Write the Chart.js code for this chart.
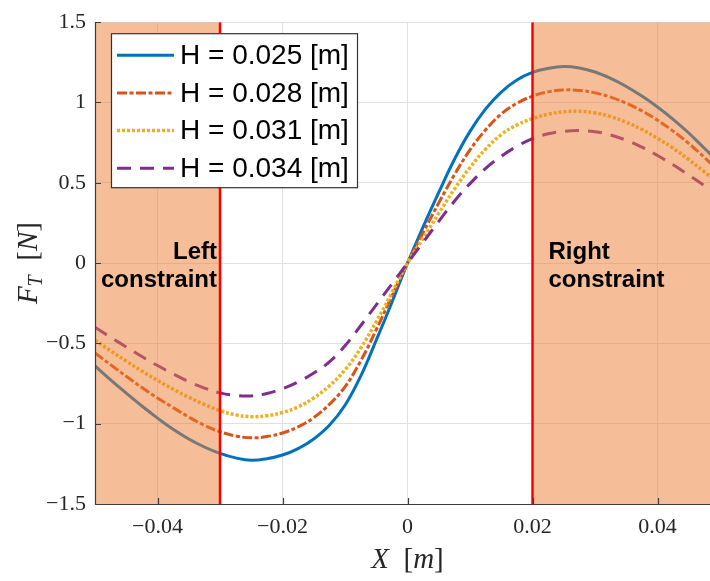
<!DOCTYPE html>
<html>
<head>
<meta charset="utf-8">
<script src="https://cdn.jsdelivr.net/npm/chart.js@4.4.1/dist/chart.umd.min.js"></script>
<style>
  html, body { margin: 0; padding: 0; overflow: hidden; background: #fff; }
  #wrap { position: absolute; left: 0; top: 0; width: 726px; height: 581px; }
</style>
</head>
<body>
<div id="wrap"><canvas id="c" width="726" height="581"></canvas></div>
<script>
// Horizontal position of the moving part [m]
const xValues = [
  -0.05, -0.0475, -0.045, -0.0425, -0.04, -0.0375, -0.035, -0.0325, -0.03, -0.0275,
  -0.025, -0.0225, -0.02, -0.0175, -0.015, -0.0125, -0.01, -0.0075, -0.005, -0.0025,
  0,
  0.0025, 0.005, 0.0075, 0.01, 0.0125, 0.015, 0.0175, 0.02, 0.0225, 0.025,
  0.0275, 0.03, 0.0325, 0.035, 0.0375, 0.04, 0.0425, 0.045, 0.0475, 0.05
];

// Tangential force F_T [N] for each gap H
const forceH025 = [
  -0.64, -0.727, -0.81, -0.89, -0.965, -1.035, -1.095, -1.145, -1.185, -1.213,
  -1.228, -1.218, -1.195, -1.155, -1.095, -1.01, -0.885, -0.705, -0.48, -0.245,
  0.0,
  0.225, 0.44, 0.645, 0.82, 0.96, 1.065, 1.14, 1.187, 1.212, 1.224,
  1.215, 1.19, 1.15, 1.10, 1.04, 0.972, 0.895, 0.81, 0.715, 0.62
];
const forceH028 = [
  -0.56, -0.633, -0.705, -0.775, -0.84, -0.90, -0.958, -1.01, -1.05, -1.076,
  -1.088, -1.08, -1.058, -1.02, -0.962, -0.88, -0.77, -0.61, -0.415, -0.205,
  0.0,
  0.19, 0.375, 0.55, 0.705, 0.83, 0.928, 0.995, 1.04, 1.066, 1.078,
  1.075, 1.06, 1.033, 0.995, 0.948, 0.89, 0.822, 0.745, 0.658, 0.565
];
const forceH031 = [
  -0.48, -0.546, -0.61, -0.672, -0.73, -0.785, -0.835, -0.88, -0.918, -0.945,
  -0.956, -0.95, -0.93, -0.895, -0.84, -0.765, -0.665, -0.53, -0.365, -0.185,
  0.0,
  0.155, 0.31, 0.46, 0.595, 0.71, 0.80, 0.86, 0.90, 0.927, 0.942,
  0.945, 0.935, 0.912, 0.877, 0.832, 0.777, 0.715, 0.645, 0.568, 0.49
];
const forceH034 = [
  -0.40, -0.462, -0.522, -0.582, -0.638, -0.69, -0.738, -0.778, -0.808, -0.824,
  -0.827, -0.812, -0.782, -0.74, -0.685, -0.615, -0.515, -0.39, -0.26, -0.13,
  0.0,
  0.13, 0.26, 0.385, 0.495, 0.59, 0.665, 0.727, 0.775, 0.805, 0.82,
  0.825, 0.818, 0.798, 0.765, 0.722, 0.67, 0.612, 0.548, 0.482, 0.415
];

const seriesLabels = ['H = 0.025 [m]', 'H = 0.028 [m]', 'H = 0.031 [m]', 'H = 0.034 [m]'];

// Axis ticks
const xTickValues = [-0.04, -0.02, 0, 0.02, 0.04];
const xTickLabels = ['\u22120.04', '\u22120.02', '0', '0.02', '0.04'];
const yTickValues = [-1.5, -1, -0.5, 0, 0.5, 1, 1.5];
const yTickLabels = ['\u22121.5', '\u22121', '\u22120.5', '0', '0.5', '1', '1.5'];

// Travel limits and the forbidden zones beyond them
const constraintX = [-0.03, 0.02];
const forbiddenZones = [[-0.05, -0.03], [0.02, 0.05]];
const constraintText = [['Left', 'constraint'], ['Right', 'constraint']];

const toPoints = ys => xValues.map((x, i) => ({ x, y: ys[i] }));

const lineStyles = [
  { color: '#0072BD', dash: [], width: 3 },
  { color: '#D95319', dash: [10, 2.5, 4, 2.5], width: 3 },
  { color: '#EDB120', dash: [3, 2], width: 3.5 },
  { color: '#7E2F8E', dash: [14, 9], width: 3 }
];
const allSeries = [forceH025, forceH028, forceH031, forceH034];

const datasets = allSeries.map((ys, i) => ({
  label: seriesLabels[i],
  data: toPoints(ys),
  borderColor: lineStyles[i].color,
  borderWidth: lineStyles[i].width,
  borderDash: lineStyles[i].dash,
  borderCapStyle: 'butt',
  pointRadius: 0,
  tension: 0.4,
  fill: false,
  order: 4 - i
}));

const TICK_FONT = '"Liberation Serif", "Times New Roman", serif';
const SANS = '"Liberation Sans", Arial, sans-serif';

// Draws a row of text runs (mixed italic / upright / subscript) starting at x, baseline y
function drawRuns(ctx, runs, x, y) {
  let cx = x;
  runs.forEach(r => {
    ctx.font = r.font;
    ctx.fillText(r.text, cx, y + (r.dy || 0));
    cx += ctx.measureText(r.text).width;
  });
}
function runsWidth(ctx, runs) {
  let w = 0;
  runs.forEach(r => { ctx.font = r.font; w += ctx.measureText(r.text).width; });
  return w;
}

const overlay = {
  id: 'overlay',
  afterDatasetsDraw(chart) {
    const { ctx, chartArea: a, scales: { x, y } } = chart;
    ctx.save();
    ctx.beginPath();
    ctx.rect(a.left, a.top, a.right - a.left, a.bottom - a.top);
    ctx.clip();

    // translucent forbidden zones
    ctx.fillStyle = 'rgba(237,125,49,0.5)';
    forbiddenZones.forEach(([x0, x1]) => {
      const p0 = x.getPixelForValue(x0), p1 = x.getPixelForValue(x1);
      ctx.fillRect(p0, a.top, p1 - p0, a.bottom - a.top);
    });

    // constraint lines
    ctx.strokeStyle = '#ff0000';
    ctx.lineWidth = 2.5;
    constraintX.forEach(v => {
      const p = x.getPixelForValue(v);
      ctx.beginPath();
      ctx.moveTo(p, a.top);
      ctx.lineTo(p, a.bottom);
      ctx.stroke();
    });
    ctx.restore();

    // axis lines with inward ticks
    ctx.save();
    ctx.strokeStyle = '#3c3c3c';
    ctx.lineWidth = 1.2;
    ctx.beginPath();
    ctx.moveTo(a.left + 0.5, a.top);
    ctx.lineTo(a.left + 0.5, a.bottom + 0.5);
    ctx.lineTo(a.right, a.bottom + 0.5);
    ctx.stroke();
    ctx.beginPath();
    xTickValues.forEach(v => {
      const p = Math.round(x.getPixelForValue(v)) + 0.5;
      ctx.moveTo(p, a.bottom);
      ctx.lineTo(p, a.bottom - 6);
    });
    yTickValues.forEach(v => {
      const p = Math.round(y.getPixelForValue(v)) + 0.5;
      ctx.moveTo(a.left, p);
      ctx.lineTo(a.left + 6, p);
    });
    ctx.stroke();
    ctx.restore();
  },
  afterDraw(chart) {
    const { ctx, chartArea: a, scales: { x, y } } = chart;
    ctx.save();

    // constraint labels
    ctx.fillStyle = '#000';
    ctx.font = 'bold 24px ' + SANS;
    ctx.textBaseline = 'middle';
    const y0 = y.getPixelForValue(0);
    const pL = x.getPixelForValue(constraintX[0]);
    const pR = x.getPixelForValue(constraintX[1]);
    ctx.textAlign = 'right';
    ctx.fillText(constraintText[0][0], pL - 3, y0 - 11);
    ctx.fillText(constraintText[0][1], pL - 3, y0 + 17);
    ctx.textAlign = 'left';
    ctx.fillText(constraintText[1][0], pR + 16, y0 - 11);
    ctx.fillText(constraintText[1][1], pR + 16, y0 + 17);

    // legend box
    const lx = a.left + 16, ly = a.top + 11, lw = 246, lh = 154;
    ctx.fillStyle = '#fff';
    ctx.fillRect(lx, ly, lw, lh);
    ctx.strokeStyle = '#333';
    ctx.lineWidth = 1.2;
    ctx.strokeRect(lx + 0.5, ly + 0.5, lw, lh);
    chart.data.datasets.forEach((ds, i) => {
      const cy = ly + 22 + i * 37.7;
      ctx.save();
      ctx.strokeStyle = ds.borderColor;
      ctx.lineWidth = ds.borderWidth;
      ctx.setLineDash(ds.borderDash);
      ctx.lineCap = 'butt';
      ctx.beginPath();
      ctx.moveTo(lx + 6, cy);
      ctx.lineTo(lx + 63, cy);
      ctx.stroke();
      ctx.restore();
      ctx.fillStyle = '#000';
      ctx.font = '28px ' + SANS;
      ctx.textAlign = 'left';
      ctx.textBaseline = 'middle';
      ctx.fillText(ds.label, lx + 69, cy + 1);
    });

    // axis titles
    ctx.fillStyle = '#262626';
    ctx.textAlign = 'left';
    ctx.textBaseline = 'alphabetic';
    const it = 'italic 29px ' + TICK_FONT;
    const up = '29px ' + TICK_FONT;
    const xRuns = [
      { text: 'X', font: it },
      { text: '  [', font: up },
      { text: 'm', font: it },
      { text: ']', font: up }
    ];
    const cxTitle = x.getPixelForValue(0);
    drawRuns(ctx, xRuns, cxTitle - runsWidth(ctx, xRuns) / 2, 568);

    const yRuns = [
      { text: 'F', font: it },
      { text: 'T', font: 'italic 20px ' + TICK_FONT, dy: 5 },
      { text: '  [', font: up },
      { text: 'N', font: it },
      { text: ']', font: up }
    ];
    ctx.save();
    ctx.translate(37, y0);
    ctx.rotate(-Math.PI / 2);
    drawRuns(ctx, yRuns, -runsWidth(ctx, yRuns) / 2, 0);
    ctx.restore();

    ctx.restore();
  }
};

new Chart(document.getElementById('c'), {
  type: 'line',
  data: { datasets },
  plugins: [overlay],
  options: {
    responsive: false,
    animation: false,
    devicePixelRatio: 1,
    layout: { padding: { top: 18, left: 0, right: 6, bottom: 0 } },
    plugins: { legend: { display: false }, tooltip: { enabled: false }, title: { display: false } },
    scales: {
      x: {
        type: 'linear',
        min: -0.05,
        max: 0.05,
        afterBuildTicks: s => { s.ticks = xTickValues.map(v => ({ value: v })); },
        afterFit: s => { s.height = 77; },
        ticks: {
          callback: (v, i) => xTickLabels[i],
          font: { family: TICK_FONT, size: 22 },
          color: '#262626',
          padding: 10,
          maxRotation: 0,
          autoSkip: false
        },
        grid: { color: '#e0e0e0', lineWidth: 1, drawTicks: false },
        border: { display: false }
      },
      y: {
        type: 'linear',
        min: -1.5,
        max: 1.5,
        afterBuildTicks: s => { s.ticks = yTickValues.map(v => ({ value: v })); },
        afterFit: s => { s.width = 95; },
        ticks: {
          callback: (v, i) => yTickLabels[i],
          font: { family: TICK_FONT, size: 22 },
          color: '#262626',
          padding: 9,
          autoSkip: false
        },
        grid: { color: '#e0e0e0', lineWidth: 1, drawTicks: false },
        border: { display: false }
      }
    }
  }
});
</script>
</body>
</html>
